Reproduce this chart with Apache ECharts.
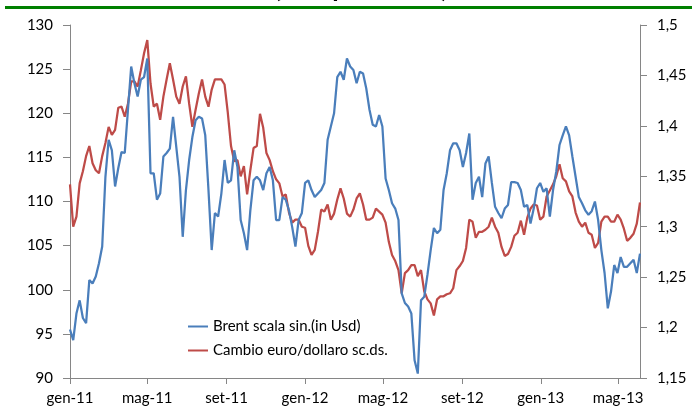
<!DOCTYPE html>
<html>
<head>
<meta charset="utf-8">
<script src="https://cdn.jsdelivr.net/npm/echarts@6/dist/echarts.min.js"></script>
<style>
  html, body { margin: 0; padding: 0; background: #fff; }
  #chart { width: 692px; height: 411px; }
</style>
</head>
<body>
<div id="chart"></div>
<script>
// giorni dal 1 gen 2011, un valore ogni 5 giorni
const stepDays = 5;
const lastDay = 885;
const monthNames = ['gen', 'feb', 'mar', 'apr', 'mag', 'giu', 'lug', 'ago', 'set', 'ott', 'nov', 'dic'];
const tickMonths = [0, 4, 8];

// Brent (Usd per barile), scala sinistra
const brent = [
  95.5, 94.3, 97.3, 98.8, 96.8, 96.2, 101.1, 100.7, 101.5, 103.0,
  104.9, 112.8, 117.0, 115.8, 111.7, 113.8, 115.6, 115.5, 120.4, 125.3,
  123.4, 121.9, 123.8, 124.1, 126.2, 113.2, 113.2, 110.2, 110.9, 115.1,
  115.5, 116.0, 119.6, 116.2, 112.8, 106.0, 111.3, 114.7, 117.3, 119.2,
  119.6, 119.4, 117.5, 111.3, 104.5, 108.7, 108.3, 110.9, 114.7, 112.1,
  112.4, 115.8, 113.9, 107.9, 106.4, 104.5, 109.0, 112.4, 112.8, 112.4,
  111.3, 113.2, 113.9, 112.4, 107.9, 107.9, 110.5, 110.2, 109.0, 107.1,
  104.9, 107.9, 108.7, 112.1, 112.4, 111.3, 110.5, 110.9, 111.3, 112.1,
  117.0, 118.5, 120.0, 124.1, 124.7, 123.8, 126.2, 125.3, 124.9, 123.4,
  124.7, 124.5, 122.8, 120.4, 118.7, 118.5, 119.8, 118.5, 112.6, 111.3,
  109.8, 109.2, 107.9, 99.6, 98.5, 98.1, 97.3, 92.0, 90.5, 98.8,
  99.2, 101.7, 104.5, 107.0, 106.4, 106.8, 111.3, 113.2, 115.8, 116.6,
  116.6, 115.8, 113.9, 115.5, 117.7, 110.2, 112.1, 112.8, 110.5, 114.3,
  115.1, 112.1, 109.4, 108.7, 108.1, 109.2, 109.6, 112.2, 112.2, 112.1,
  111.3, 109.4, 109.6, 107.5, 109.2, 111.5, 112.1, 111.1, 111.5, 108.3,
  111.3, 113.4, 116.4, 117.5, 118.5, 117.5, 115.1, 112.8, 110.5, 109.8,
  109.0, 108.5, 108.9, 110.0, 107.9, 104.5, 101.9, 97.9, 99.8, 102.8,
  101.9, 103.7, 102.6, 102.6, 103.0, 103.4, 101.9, 104.1
];

// cambio euro/dollaro, scala destra
const eurUsd = [
  1.342, 1.300, 1.310, 1.343, 1.355, 1.370, 1.380, 1.363, 1.356, 1.353,
  1.370, 1.383, 1.399, 1.391, 1.396, 1.418, 1.419, 1.409, 1.422, 1.444,
  1.444, 1.439, 1.455, 1.472, 1.485, 1.442, 1.419, 1.422, 1.406, 1.429,
  1.446, 1.462, 1.446, 1.429, 1.422, 1.439, 1.449, 1.422, 1.399, 1.416,
  1.432, 1.446, 1.429, 1.419, 1.436, 1.446, 1.446, 1.446, 1.441, 1.413,
  1.380, 1.365, 1.366, 1.350, 1.360, 1.332, 1.356, 1.378, 1.380, 1.412,
  1.398, 1.373, 1.366, 1.355, 1.347, 1.343, 1.330, 1.332, 1.314, 1.304,
  1.307, 1.307, 1.300, 1.299, 1.281, 1.272, 1.277, 1.295, 1.317, 1.315,
  1.322, 1.307, 1.313, 1.327, 1.338, 1.328, 1.313, 1.310, 1.317, 1.328,
  1.333, 1.322, 1.307, 1.307, 1.309, 1.318, 1.315, 1.312, 1.304, 1.285,
  1.272, 1.266, 1.257, 1.234, 1.254, 1.257, 1.262, 1.262, 1.251, 1.257,
  1.236, 1.228, 1.224, 1.212, 1.228, 1.231, 1.231, 1.233, 1.234, 1.239,
  1.257, 1.261, 1.266, 1.279, 1.307, 1.305, 1.289, 1.295, 1.295, 1.297,
  1.300, 1.309, 1.300, 1.294, 1.280, 1.271, 1.273, 1.280, 1.291, 1.294,
  1.306, 1.292, 1.309, 1.318, 1.322, 1.321, 1.307, 1.310, 1.330, 1.336,
  1.342, 1.350, 1.362, 1.348, 1.345, 1.335, 1.330, 1.314, 1.305, 1.300,
  1.304, 1.294, 1.292, 1.279, 1.284, 1.305, 1.310, 1.310, 1.305, 1.305,
  1.312, 1.307, 1.298, 1.286, 1.289, 1.293, 1.303, 1.324
];

const days = [];
for (let d = 0; d <= lastDay; d++) {
  const dt = new Date(2011, 0, 1 + d);
  days.push(dt.getFullYear() + '-' + (dt.getMonth() + 1) + '-' + dt.getDate());
}

function isTickDay(idx) {
  const dt = new Date(2011, 0, 1 + idx);
  return dt.getDate() === 1 && tickMonths.indexOf(dt.getMonth()) >= 0;
}

const font = 'Lato';
const axisGrey = '#868686';

let myChart = echarts.init(document.getElementById('chart'));

let option = {
  animation: false,
  backgroundColor: '#fff',
  textStyle: { fontFamily: font },
  grid: { left: 70, right: 52, top: 25, bottom: 33 },
  graphic: [
    {
      // titolo tagliato in alto
      type: 'text',
      x: 361,
      y: 2,
      style: {
        text: '(Usd per barile)',
        textAlign: 'center',
        verticalAlign: 'bottom',
        font: 'bold 26px Lato',
        fill: '#000'
      }
    },
    {
      type: 'line',
      shape: { x1: 5, y1: 7.5, x2: 692, y2: 7.5 },
      style: { stroke: '#008000', lineWidth: 3 }
    }
  ],
  legend: {
    orient: 'vertical',
    left: 183,
    top: 314,
    itemWidth: 20,
    itemHeight: 2,
    itemGap: 9,
    icon: 'rect',
    textStyle: { fontFamily: font, fontSize: 15, color: '#000' },
    data: ['Brent scala sin.(in Usd)', 'Cambio euro/dollaro sc.ds.']
  },
  xAxis: {
    type: 'category',
    data: days,
    boundaryGap: false,
    axisLine: { lineStyle: { color: axisGrey } },
    axisTick: {
      interval: (idx) => isTickDay(idx),
      length: 6,
      lineStyle: { color: axisGrey }
    },
    axisLabel: {
      interval: (idx) => isTickDay(idx),
      margin: 13,
      fontSize: 15,
      color: '#000',
      formatter: (val, idx) => {
        const dt = new Date(2011, 0, 1 + idx);
        return monthNames[dt.getMonth()] + '-' + String(dt.getFullYear()).slice(2);
      }
    },
    splitLine: { show: false }
  },
  yAxis: [
    {
      type: 'value',
      min: 90,
      max: 130,
      interval: 5,
      position: 'left',
      axisLine: { show: true, lineStyle: { color: axisGrey } },
      axisTick: { show: true, length: 7, lineStyle: { color: axisGrey } },
      axisLabel: { margin: 17, fontSize: 15, color: '#000' },
      splitLine: { show: false }
    },
    {
      type: 'value',
      min: 1.15,
      max: 1.5,
      interval: 0.05,
      position: 'right',
      axisLine: { show: true, lineStyle: { color: axisGrey } },
      axisTick: { show: true, length: 7, lineStyle: { color: axisGrey } },
      axisLabel: {
        margin: 17,
        fontSize: 15,
        color: '#000',
        formatter: (v) => String(+v.toFixed(2)).replace('.', ',')
      },
      splitLine: { show: false }
    }
  ],
  series: [
    {
      name: 'Brent scala sin.(in Usd)',
      type: 'line',
      yAxisIndex: 0,
      showSymbol: false,
      color: '#4a7ebb',
      lineStyle: { width: 2.25, color: '#4a7ebb' },
      data: brent.map((v, i) => [i * stepDays, v]),
      z: 3
    },
    {
      name: 'Cambio euro/dollaro sc.ds.',
      type: 'line',
      yAxisIndex: 1,
      showSymbol: false,
      color: '#be4b48',
      lineStyle: { width: 2.25, color: '#be4b48' },
      data: eurUsd.map((v, i) => [i * stepDays, v]),
      z: 2
    }
  ]
};
myChart.setOption(option);
</script>
</body>
</html>
